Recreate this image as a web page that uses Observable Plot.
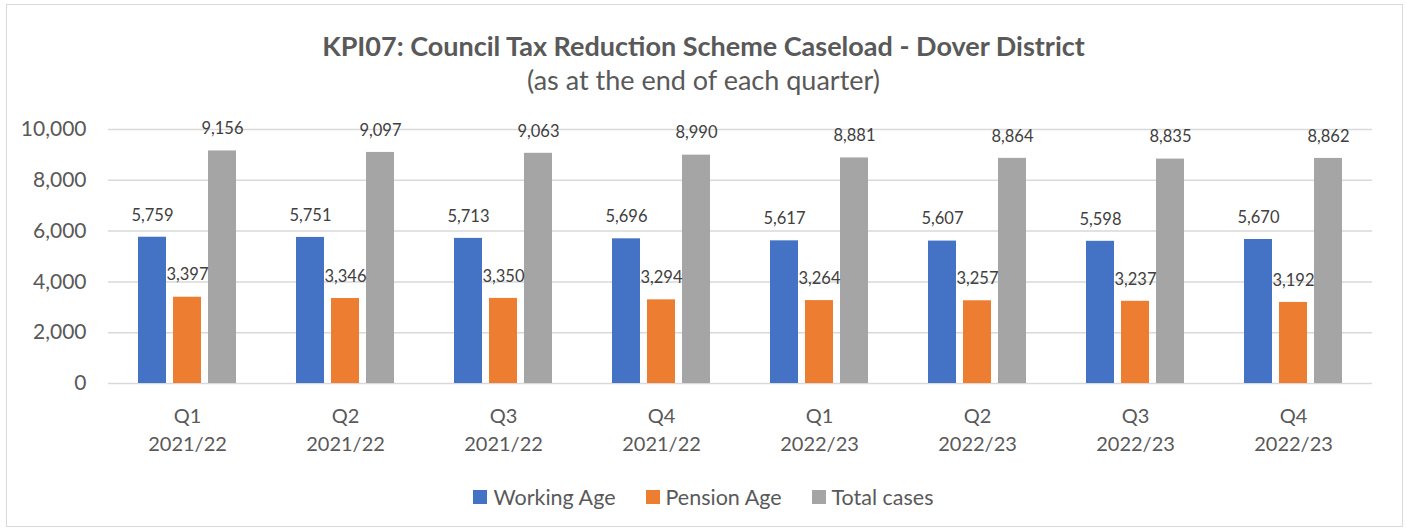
<!DOCTYPE html>
<html>
<head>
<meta charset="utf-8">
<script src="https://cdn.jsdelivr.net/npm/d3@7"></script>
<script src="https://cdn.jsdelivr.net/npm/@observablehq/plot@0.6"></script>
<style>
  html, body { margin: 0; padding: 0; background: #fff; }
  body { width: 1407px; height: 530px; position: relative; overflow: hidden; font-family: Lato, "Open Sans", sans-serif; color: #595959; }
  #frame { position: absolute; left: 6px; top: 4px; width: 1397px; height: 523px; border: 1.5px solid #d9d9d9; box-sizing: border-box; }
  #title { position: absolute; left: 0; width: 1407px; top: 30px; text-align: center; font-size: 27px; font-weight: bold; line-height: 32px; }
  #subtitle { position: absolute; left: 0; width: 1407px; top: 64px; text-align: center; font-size: 27px; line-height: 32px; }
  #chart { position: absolute; left: 0; top: 105px; }
  #legend { position: absolute; left: 0; width: 1407px; top: 483px; display: flex; justify-content: center; gap: 30px; font-size: 21.5px; line-height: 28px; }
  .item { display: flex; align-items: center; }
  .sw { width: 14px; height: 14px; margin-right: 6px; display: inline-block; }
</style>
</head>
<body>
<div id="frame"></div>
<div id="title">KPI07: Council Tax Reduction Scheme Caseload - Dover District</div>
<div id="subtitle">(as at the end of each quarter)</div>
<div id="chart"></div>
<div id="legend"></div>
<script>
const quarters = ["Q1\n2021/22","Q2\n2021/22","Q3\n2021/22","Q4\n2021/22","Q1\n2022/23","Q2\n2022/23","Q3\n2022/23","Q4\n2022/23"];
const seriesNames = ["Working Age","Pension Age","Total cases"];
const seriesColors = ["#4472C4","#ED7D31","#A5A5A5"];
const workingAge = [5759,5751,5713,5696,5617,5607,5598,5670];
const pensionAge = [3397,3346,3350,3294,3264,3257,3237,3192];
const totalCases = [9156,9097,9063,8990,8881,8864,8835,8862];
const yTicks = [0,2000,4000,6000,8000,10000];

const seriesValues = [workingAge, pensionAge, totalCases];
const data = [];
quarters.forEach((q, i) => {
  seriesNames.forEach((s, j) => data.push({quarter: q, series: s, value: seriesValues[j][i]}));
});

const fmt = d3.format(",");
const plot = Plot.plot({
  width: 1407,
  height: 360,
  marginLeft: 108,
  marginRight: 35,
  marginTop: 24,
  marginBottom: 82,
  style: {fontFamily: "Lato, 'Open Sans', sans-serif", fontSize: "20px", color: "#595959", background: "transparent"},
  fx: {domain: quarters, padding: 0, axis: null},
  x: {domain: seriesNames, paddingInner: 0.2, paddingOuter: 0.857, axis: null},
  y: {domain: [0, 10000], axis: null},
  color: {domain: seriesNames, range: seriesColors},
  marks: [
    Plot.gridY(yTicks, {stroke: "#d9d9d9", strokeWidth: 1.5, strokeOpacity: 1}),
    Plot.barY(data, {fx: "quarter", x: "series", y: "value", fill: "series"}),
    Plot.text(data, {fx: "quarter", x: "series", y: "value", text: d => fmt(d.value), dy: -22, fontSize: 16.5, fill: "#404040"}),
    Plot.axisY({ticks: yTicks, tickFormat: fmt, tickSize: 0, tickPadding: 22, fontSize: 21, label: null}),
    Plot.axisFx({anchor: "bottom", tickSize: 0, tickPadding: 20, fontSize: 20, lineHeight: 1.4, label: null})
  ]
});
document.getElementById("chart").appendChild(plot);

const legend = document.getElementById("legend");
seriesNames.forEach((s, j) => {
  const it = document.createElement("div");
  it.className = "item";
  const sw = document.createElement("span");
  sw.className = "sw";
  sw.style.background = seriesColors[j];
  it.appendChild(sw);
  it.appendChild(document.createTextNode(s));
  legend.appendChild(it);
});
</script>
</body>
</html>
